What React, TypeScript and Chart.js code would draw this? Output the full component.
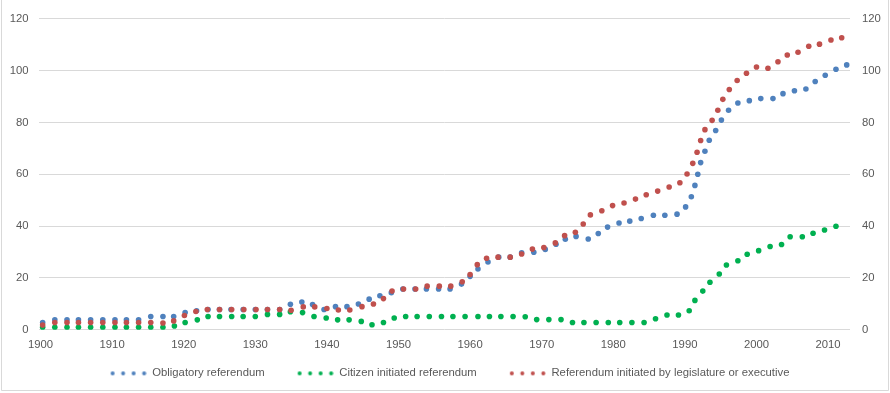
import React, { useEffect, useRef } from "react";
import { Chart, registerables } from "chart.js";

Chart.register(...registerables);

const FONT_FAMILY = "'Liberation Sans', Arial, sans-serif";
const TEXT_COLOR = "#595959";
const GRID_COLOR = "#D9D9D9";

const seriesNames = [
  "Obligatory referendum",
  "Citizen initiated referendum",
  "Referendum initiated by legislature or executive",
];
const seriesColors = ["#4F81BD", "#00B050", "#C0504D"];

const xTickYears = [1900, 1910, 1920, 1930, 1940, 1950, 1960, 1970, 1980, 1990, 2000, 2010];

const obligatoryYears = [
  1900.3, 1902.0, 1903.7, 1905.3, 1907.0, 1908.7, 1910.4, 1912.0, 1913.7, 1915.4, 1917.1, 1918.6,
  1920.2, 1921.8, 1923.4, 1925.0, 1926.6, 1928.3, 1930.0, 1931.7, 1933.4, 1934.9, 1936.5, 1938.0,
  1939.6, 1941.2, 1942.8, 1944.4, 1945.9, 1947.4, 1949.0, 1950.6, 1952.3, 1953.9, 1955.6, 1957.2,
  1958.8, 1960.0, 1961.1, 1962.5, 1964.0, 1965.6, 1967.2, 1968.9, 1970.5, 1972.0, 1973.3, 1974.8,
  1976.5, 1977.9, 1979.2, 1980.8, 1982.3, 1983.9, 1985.6, 1987.2, 1988.9, 1990.1, 1990.9, 1991.4,
  1991.8, 1992.2, 1992.8, 1993.4, 1994.3, 1995.1, 1996.1, 1997.4, 1999.0, 2000.6, 2002.3, 2003.7,
  2005.3, 2006.9, 2008.2, 2009.6, 2011.1, 2012.6,
];
const obligatoryValues = [
  2.8, 3.8, 3.8, 3.8, 3.8, 3.8, 3.8, 3.8, 3.8, 5.1, 5.1, 5.1,
  6.6, 7.3, 7.8, 7.8, 7.8, 7.8, 7.8, 7.8, 7.8, 9.8, 10.7, 9.7,
  7.8, 8.9, 8.9, 9.9, 11.8, 13.1, 14.3, 15.7, 15.7, 15.7, 15.7, 15.7,
  17.6, 20.6, 23.4, 26.1, 28.0, 28.0, 29.7, 29.9, 31.0, 33.0, 34.9, 36.0,
  35.0, 37.1, 39.6, 41.2, 41.9, 42.9, 44.2, 44.2, 44.6, 47.4, 51.3, 55.7,
  60.0, 64.5, 68.9, 73.1, 76.9, 80.9, 84.7, 87.5, 88.4, 89.2, 89.2, 91.1,
  92.2, 92.9, 95.8, 98.2, 100.5, 102.2,
];

const citizenYears = [
  1900.3, 1902.0, 1903.7, 1905.3, 1907.0, 1908.7, 1910.4, 1912.0, 1913.7, 1915.4, 1917.1, 1918.7,
  1920.2, 1921.9, 1923.4, 1925.0, 1926.7, 1928.3, 1930.0, 1931.7, 1933.4, 1934.9, 1936.6, 1938.2,
  1939.9, 1941.5, 1943.1, 1944.8, 1946.3, 1947.9, 1949.4, 1951.0, 1952.6, 1954.3, 1956.0, 1957.6,
  1959.3, 1961.1, 1962.7, 1964.3, 1966.0, 1967.7, 1969.3, 1971.0, 1972.7, 1974.3, 1975.9, 1977.6,
  1979.3, 1980.9, 1982.6, 1984.3, 1985.9, 1987.5, 1989.1, 1990.6, 1991.4, 1992.5, 1993.5, 1994.8,
  1995.8, 1997.4, 1998.7, 2000.3, 2001.9, 2003.5, 2004.7, 2006.4, 2007.9, 2009.5, 2011.1,
];
const citizenValues = [
  0.9, 0.9, 0.9, 0.9, 0.9, 0.9, 0.9, 0.9, 0.9, 0.9, 0.9, 1.4,
  2.8, 3.8, 5.1, 5.1, 5.1, 5.1, 5.1, 5.9, 5.9, 6.9, 6.6, 5.1,
  4.5, 3.8, 3.8, 3.2, 1.9, 2.8, 4.5, 5.1, 5.1, 5.1, 5.1, 5.1,
  5.1, 5.1, 5.1, 5.1, 5.1, 5.0, 3.9, 3.9, 3.9, 2.8, 2.8, 2.8,
  2.8, 2.8, 2.8, 2.8, 4.2, 5.7, 5.7, 7.3, 11.3, 14.9, 18.3, 21.5,
  25.0, 26.6, 29.1, 30.5, 32.1, 32.9, 35.9, 35.9, 37.2, 38.5, 39.9,
];

const legislatureYears = [
  1900.3, 1902.0, 1903.7, 1905.3, 1907.0, 1908.7, 1910.4, 1912.0, 1913.7, 1915.4, 1917.1, 1918.6,
  1920.1, 1921.7, 1923.3, 1925.0, 1926.7, 1928.4, 1930.1, 1931.7, 1933.4, 1935.0, 1936.7, 1938.3,
  1940.0, 1941.6, 1943.2, 1944.9, 1946.5, 1947.9, 1949.1, 1950.7, 1952.4, 1954.0, 1955.7, 1957.3,
  1958.9, 1960.0, 1961.0, 1962.3, 1963.9, 1965.6, 1967.2, 1968.7, 1970.3, 1971.9, 1973.2, 1974.7,
  1975.8, 1976.8, 1978.4, 1979.9, 1981.5, 1983.1, 1984.6, 1986.2, 1987.8, 1989.3, 1990.3, 1991.1,
  1991.7, 1992.2, 1992.8, 1993.8, 1994.6, 1995.3, 1996.2, 1997.3, 1998.6, 2000.0, 2001.6, 2003.0,
  2004.3, 2005.8, 2007.3, 2008.8, 2010.4, 2011.9,
];
const legislatureValues = [
  1.8, 2.8, 2.8, 2.8, 2.8, 2.8, 2.8, 2.8, 2.8, 2.8, 2.6, 3.4,
  5.5, 7.0, 7.8, 7.8, 7.8, 7.8, 7.8, 7.8, 7.8, 7.5, 8.8, 8.8,
  8.2, 7.6, 7.6, 8.9, 9.9, 12.0, 14.9, 15.7, 15.7, 16.8, 16.8, 16.8,
  18.5, 21.3, 25.1, 27.6, 28.0, 28.0, 29.2, 31.1, 31.7, 33.5, 36.3, 37.6,
  40.8, 44.3, 45.9, 47.9, 48.9, 50.4, 52.1, 53.5, 55.1, 56.7, 60.1, 64.2,
  68.5, 73.0, 77.2, 80.8, 84.7, 88.9, 92.7, 96.2, 99.0, 101.4, 100.9, 103.4,
  106.0, 107.1, 109.4, 110.2, 111.8, 112.7,
];

const toPoints = (xs: number[], ys: number[]) => xs.map((x, i) => ({ x, y: ys[i] }));

function legendSwatch(color: string): HTMLCanvasElement {
  const c = document.createElement("canvas");
  c.width = 59;
  c.height = 6;
  const g = c.getContext("2d")!;
  g.fillStyle = color;
  [25, 35.5, 46, 56.5].forEach((cx) => {
    g.beginPath();
    g.arc(cx, 3, 2, 0, Math.PI * 2);
    g.fill();
  });
  return c;
}

const framePlugin = {
  id: "frame",
  afterLayout(chart: any) {
    if (chart.legend) {
      chart.legend.right -= 13;
    }
  },
  beforeDraw(chart: any) {
    const ctx = chart.ctx;
    ctx.save();
    ctx.fillStyle = "#ffffff";
    ctx.fillRect(0, 0, chart.width, chart.height);
    ctx.strokeStyle = GRID_COLOR;
    ctx.lineWidth = 1;
    ctx.beginPath();
    ctx.moveTo(1.5, 0);
    ctx.lineTo(1.5, 390.5);
    ctx.lineTo(888.5, 390.5);
    ctx.lineTo(888.5, 0);
    ctx.stroke();
    ctx.restore();
  },
};

export default function App() {
  const canvasRef = useRef<HTMLCanvasElement | null>(null);

  useEffect(() => {
    document.body.style.margin = "0";
    const canvas = canvasRef.current;
    if (!canvas) return;
    const font = { family: FONT_FAMILY, size: 11.3 };
    const seriesData = [
      toPoints(obligatoryYears, obligatoryValues),
      toPoints(citizenYears, citizenValues),
      toPoints(legislatureYears, legislatureValues),
    ];
    const drawOrder = [2, 1, 0];
    const swatches = seriesColors.map(legendSwatch);

    const chart = new Chart(canvas, {
      type: "scatter",
      data: {
        datasets: seriesNames.map((name, i) => ({
          label: name,
          data: seriesData[i],
          backgroundColor: seriesColors[i],
          borderColor: seriesColors[i],
          borderWidth: 0,
          pointRadius: 2.8,
          pointHoverRadius: 2.8,
          showLine: false,
          order: drawOrder[i],
          yAxisID: "y",
        })),
      },
      options: {
        responsive: false,
        animation: false,
        devicePixelRatio: 1,
        layout: { padding: { top: 15.5, bottom: 4, left: 0, right: 0 } },
        plugins: {
          tooltip: { enabled: false },
          legend: {
            display: true,
            position: "bottom",
            labels: {
              font,
              color: TEXT_COLOR,
              padding: 10,
              usePointStyle: true,
              pointStyleWidth: 59,
              generateLabels: () =>
                seriesNames.map((name, i) => ({
                  text: name,
                  fillStyle: seriesColors[i],
                  strokeStyle: seriesColors[i],
                  lineWidth: 0,
                  pointStyle: swatches[i] as any,
                  hidden: false,
                  datasetIndex: i,
                  fontColor: TEXT_COLOR,
                })),
            },
          },
        },
        scales: {
          x: {
            type: "linear",
            min: 1899.72,
            max: 2013.06,
            afterBuildTicks: (scale: any) => {
              scale.ticks = xTickYears.map((v) => ({ value: v }));
            },
            afterFit: (scale: any) => {
              scale.height = 28;
            },
            grid: { display: false, drawTicks: false },
            border: { display: false },
            ticks: {
              font,
              color: TEXT_COLOR,
              padding: 8,
              autoSkip: false,
              maxRotation: 0,
              callback: (v: any) => String(v),
            },
          },
          y: {
            type: "linear",
            position: "left",
            min: 0,
            max: 120,
            afterFit: (scale: any) => {
              scale.width = 38.5;
            },
            grid: { color: GRID_COLOR, lineWidth: 1, drawTicks: false },
            border: { display: false },
            ticks: { stepSize: 20, font, color: TEXT_COLOR, padding: 10 },
          },
          y2: {
            type: "linear",
            position: "right",
            min: 0,
            max: 120,
            afterFit: (scale: any) => {
              scale.width = 40;
            },
            grid: { display: false, drawTicks: false },
            border: { display: false },
            ticks: { stepSize: 20, font, color: TEXT_COLOR, padding: 12 },
          },
        },
      },
      plugins: [framePlugin],
    });

    return () => chart.destroy();
  }, []);

  return (
    <div style={{ width: 890, height: 393 }}>
      <canvas ref={canvasRef} width={890} height={393} style={{ display: "block" }} />
    </div>
  );
}
